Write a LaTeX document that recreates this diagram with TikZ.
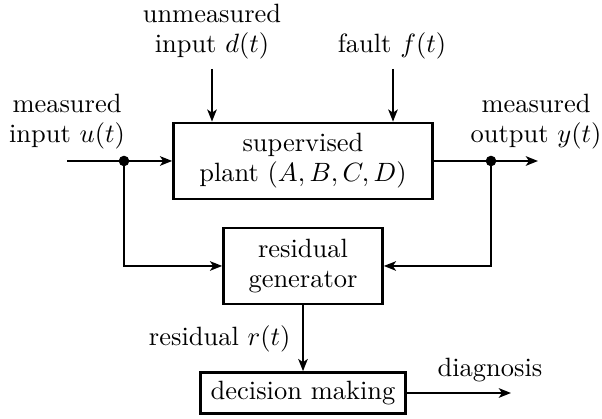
\documentclass[tikz,border=0pt]{standalone}
\usetikzlibrary{arrows.meta}
\begin{document}
\begin{tikzpicture}[x=0.378pt,y=-0.378pt,
  box/.style={draw, line width=1pt, inner sep=0pt, align=center, font=\fontsize{10}{11.3}\selectfont},
  lbl/.style={inner sep=0pt, align=center, font=\fontsize{10}{11.3}\selectfont},
  arr/.style={line width=0.8pt, -{Stealth[length=4.6pt,width=3.6pt,inset=1.2pt]}},
  dot/.style={circle, fill, inner sep=0pt, minimum size=4pt}]
\useasboundingbox (0,0) rectangle (602,419);
% boxes
\node[box, minimum width=259*0.378pt, minimum height=76*0.378pt] (plant) at (303,161) {supervised\\plant $(A,B,C,D)$};
\node[box, minimum width=159*0.378pt, minimum height=76*0.378pt] (resgen) at (303,266) {residual\\generator};
\node[box, minimum width=205*0.378pt, minimum height=41*0.378pt] (dec) at (303,393) {decision making};
% labels
\node[lbl] (ldist) at (212,32) {unmeasured\\input $d(t)$};
\node[lbl] (lfault) at (392,46) {fault $f(t)$};
\node[lbl] (lin) at (67,122) {measured\\input $u(t)$};
\node[lbl] (lout) at (536,122) {measured\\output $y(t)$};
\node[lbl, anchor=east] (lres) at (291,339) {residual $r(t)$};
\node[lbl] (ldiag) at (490,370) {diagnosis};
% coordinates
\coordinate (in) at (67,161);
\coordinate (out) at (538,161);
\node[dot] (jin) at (124,161) {};
\node[dot] (jout) at (491,161) {};
\coordinate (dtop) at (212,69);
\coordinate (ftop) at (393,69);
\coordinate (diag) at (511,393);
% connectors
\draw[arr] (in) -- (plant.west);
\draw[arr] (plant.east) -- (out);
\draw[arr] (jin.center) |- (resgen.west);
\draw[arr] (jout.center) |- (resgen.east);
\draw[arr] (dtop) -- (dtop |- plant.north);
\draw[arr] (ftop) -- (ftop |- plant.north);
\draw[arr] (resgen.south) -- (dec.north);
\draw[arr] (dec.east) -- (diag);
\end{tikzpicture}
\end{document}
